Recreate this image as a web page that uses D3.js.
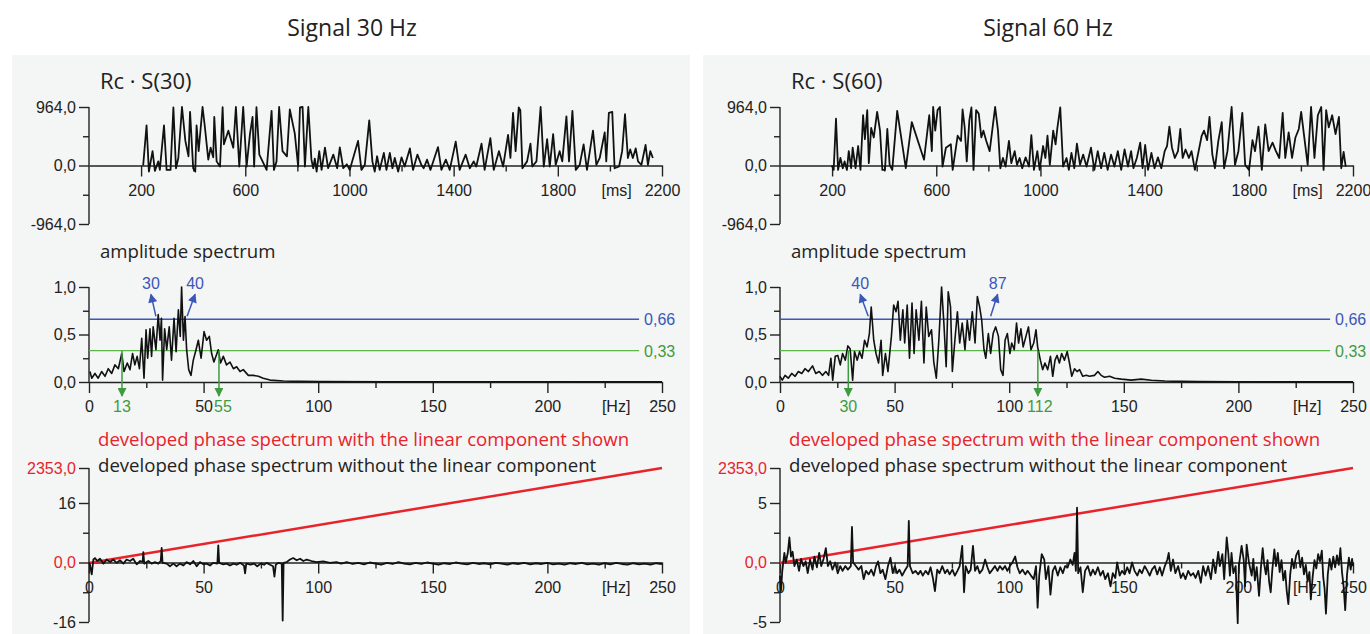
<!DOCTYPE html>
<html>
<head>
<meta charset="utf-8">
<script src="https://cdn.jsdelivr.net/npm/d3@7/dist/d3.min.js"></script>
<style>
  body { margin: 0; background: #fff; }
  svg { display: block; }
  .caption { font-family: "Open Sans", sans-serif; fill: #222; }
</style>
</head>
<body>
<div id="chart"></div>
<script>
// ---- data ----
// time signals [ms, value]
const sig30 = [[208,0],[221,660],[230,-100],[244,236],[253,-90],[266,68],[272,-73],[288,660],[298,-73],[313,-73],[324,957],[334,-45],[343,124],[357,964],[370,405],[382,152],[388,884],[400,-45],[408,-101],[413,660],[421,236],[436,964],[445,630],[458,96],[467,293],[477,135],[481,800],[490,68],[503,-17],[513,960],[518,350],[535,574],[554,293],[564,964],[577,-17],[592,964],[605,-17],[618,518],[628,800],[634,-17],[643,960],[654,180],[682,-73],[701,900],[710,-73],[720,68],[730,964],[743,236],[760,150],[771,923],[790,529],[803,-17],[810,957],[820,964],[829,-17],[842,964],[854,96],[861,-45],[867,113],[874,-101],[884,236],[893,-73],[906,293],[918,-45],[938,180],[953,-45],[963,300],[976,-45],[990,20],[1001,-73],[1033,405],[1046,-73],[1059,11],[1076,743],[1088,68],[1097,-101],[1106,152],[1116,-73],[1132,208],[1142,-73],[1155,208],[1165,-45],[1174,124],[1187,-101],[1200,135],[1212,-17],[1232,281],[1244,-73],[1261,180],[1276,11],[1285,-45],[1298,96],[1311,-73],[1340,304],[1353,-73],[1370,96],[1385,-73],[1408,394],[1423,-73],[1446,180],[1462,-45],[1477,68],[1487,-17],[1507,360],[1519,-73],[1541,450],[1554,-73],[1574,236],[1590,-17],[1609,506],[1618,124],[1628,867],[1638,236],[1650,957],[1656,912],[1664,-45],[1682,68],[1695,360],[1702,-17],[1718,68],[1734,964],[1746,-17],[1759,433],[1769,-17],[1782,518],[1792,11],[1807,236],[1817,68],[1833,810],[1843,68],[1856,900],[1869,-73],[1884,11],[1899,349],[1912,-73],[1935,574],[1948,11],[1961,124],[1980,546],[1986,68],[1996,867],[2009,884],[2018,-45],[2035,-17],[2047,236],[2058,845],[2069,124],[2078,264],[2088,124],[2099,281],[2108,68],[2121,11],[2137,338],[2146,11],[2155,236],[2165,124]];

const sig60 = [[199,0],[206,-73],[215,771],[223,-73],[232,124],[241,-45],[248,68],[257,-73],[264,236],[273,-45],[279,293],[290,-45],[300,321],[309,-73],[319,828],[326,433],[335,912],[341,39],[350,619],[360,462],[373,884],[384,574],[393,-73],[403,-73],[412,602],[421,11],[431,-73],[450,900],[483,-45],[506,715],[553,96],[573,828],[583,236],[588,964],[596,574],[605,912],[614,964],[624,-17],[637,293],[656,349],[663,-73],[682,490],[695,405],[701,923],[709,630],[717,68],[727,743],[735,957],[743,-73],[753,912],[763,855],[773,462],[781,574],[792,405],[805,236],[826,964],[837,574],[846,-45],[856,124],[866,-17],[879,405],[888,39],[901,236],[910,11],[920,124],[930,-45],[943,135],[956,-17],[965,500],[975,-73],[988,236],[997,-73],[1010,321],[1019,124],[1027,490],[1036,11],[1049,574],[1058,349],[1065,619],[1076,957],[1087,-17],[1100,124],[1109,-73],[1119,208],[1130,-45],[1140,360],[1152,11],[1164,180],[1177,-17],[1194,293],[1207,-73],[1220,236],[1233,-45],[1245,208],[1258,-73],[1271,180],[1284,-17],[1297,236],[1310,-73],[1323,264],[1336,-17],[1348,236],[1357,-45],[1370,124],[1383,377],[1392,-45],[1402,338],[1413,-73],[1426,208],[1438,-45],[1451,135],[1464,-45],[1477,236],[1486,321],[1495,642],[1505,293],[1516,124],[1528,236],[1537,602],[1546,124],[1557,264],[1570,124],[1580,236],[1593,-73],[1606,208],[1619,490],[1628,574],[1640,417],[1649,800],[1660,180],[1670,-45],[1683,405],[1696,715],[1705,-45],[1718,236],[1734,964],[1747,11],[1760,236],[1775,867],[1786,11],[1801,-73],[1814,417],[1824,236],[1837,642],[1850,-73],[1863,676],[1876,236],[1891,377],[1904,236],[1917,124],[1930,867],[1940,124],[1953,546],[1966,124],[1979,462],[1992,602],[2001,884],[2013,462],[2026,11],[2039,964],[2052,124],[2065,828],[2078,964],[2087,-73],[2097,912],[2107,630],[2120,828],[2133,518],[2146,800],[2155,-45],[2164,225],[2172,-17]];

// amplitude spectra [Hz, normalised amplitude]
const amp30 = [[0.4,0.11],[1.2,0.04],[2.6,0.09],[4,0.04],[5.5,0.11],[7,0.06],[8.4,0.14],[9.9,0.09],[11.3,0.18],[12.8,0.14],[14.3,0.30],[15.3,0.11],[16.7,0.20],[17.9,0.13],[19,0.30],[20,0.18],[21,0.27],[22,0.14],[23,0.46],[24,0.04],[24.9,0.55],[25.6,0.25],[26.6,0.56],[27.3,0.27],[28,0.58],[29.2,0.34],[30.2,0.71],[31,0.44],[31.6,0.67],[32.1,0.02],[33,0.56],[33.9,0.34],[35,0.58],[36,0.23],[37.1,0.67],[38,0.32],[39,0.76],[39.8,0.48],[40.4,1.0],[41.2,0.44],[41.9,0.69],[42.6,0.34],[43.5,0.13],[44.5,0.07],[45.5,0.23],[46.7,0.34],[47.7,0.44],[48.9,0.25],[50.2,0.53],[51.3,0.44],[52.5,0.48],[53.5,0.30],[54.5,0.21],[56.4,0.34],[57.4,0.20],[58.6,0.27],[60,0.18],[61.5,0.21],[63,0.14],[64.4,0.16],[65.9,0.11],[67.3,0.13],[69.5,0.07],[71.7,0.07],[73.9,0.06],[76,0.04],[79,0.02],[84.8,0.01],[92,0.007],[100.8,0.004],[130,0.002],[180,0.002],[250,0.001]];

const amp60 = [[0,0.06],[1,0.02],[2.2,0.07],[3.6,0.04],[5.1,0.09],[6.6,0.06],[8,0.11],[9.5,0.09],[10.9,0.14],[12.4,0.11],[14.2,0.17],[15.6,0.09],[17.1,0.11],[18.5,0.07],[20,0.11],[21.2,0.07],[22.2,0.25],[23,0.02],[24.1,0.27],[25.2,0.28],[26.3,0.18],[27.3,0.30],[28.5,0.23],[29.6,0.38],[30.6,0.35],[31.7,0.02],[32.5,0.32],[33.7,0.23],[34.7,0.32],[35.8,0.25],[36.9,0.44],[38,0.37],[39,0.51],[39.8,0.79],[40.9,0.44],[41.9,0.30],[43,0.20],[44.1,0.44],[44.8,0.07],[46,0.30],[47.1,0.11],[48.6,0.48],[49.6,0.81],[50.6,0.74],[51.5,0.85],[52.5,0.44],[53.6,0.76],[54.4,0.41],[55.5,0.81],[56.5,0.25],[57.6,0.83],[58.5,0.30],[59.4,0.76],[60.6,0.44],[61.7,0.85],[62.8,0.20],[63.8,0.79],[64.9,0.48],[66.1,0.55],[67.1,0.21],[68.2,0.04],[69.3,0.44],[70.5,1.0],[71.5,0.62],[72.5,0.16],[73.4,0.95],[74.4,0.79],[75.2,0.11],[76.3,0.44],[77.4,0.74],[78.4,0.41],[79.5,0.62],[80.7,0.34],[81.7,0.65],[82.7,0.44],[83.9,0.74],[85.1,0.41],[86.1,0.90],[87.1,0.79],[88,0.65],[89,0.34],[89.8,0.25],[90.9,0.51],[91.9,0.30],[93,0.51],[94.1,0.58],[95.3,0.48],[96.3,0.13],[97.3,0.07],[98.2,0.44],[99.2,0.51],[100.3,0.30],[101.1,0.41],[102.2,0.34],[103.2,0.62],[104.1,0.41],[105.1,0.56],[106.1,0.37],[107.3,0.48],[108.4,0.58],[109.5,0.34],[110.7,0.41],[111.7,0.55],[112.4,0.37],[113.6,0.23],[114.6,0.13],[115.6,0.20],[116.8,0.13],[118,0.27],[119,0.06],[120,0.23],[120.9,0.28],[121.9,0.20],[122.9,0.30],[124.1,0.23],[125.3,0.32],[126.3,0.20],[127.3,0.06],[128.5,0.14],[129.6,0.11],[130.7,0.13],[132.1,0.06],[133.6,0.07],[135,0.06],[137.2,0.07],[138.7,0.11],[140.1,0.07],[141.6,0.05],[143.8,0.06],[146,0.04],[148.9,0.03],[153.3,0.02],[157.6,0.03],[162,0.018],[167.9,0.01],[175.2,0.007],[182.5,0.004],[200,0.002],[250,0.001]];

// developed phase spectra without the linear component [Hz, value]
const phase30 = [[0,0],[0.4,-0.5],[1.2,-3.2],[1.9,0.8],[2.6,1.2],[3.6,0.4],[4.8,1.0],[6.3,-0.3],[7.7,0.8],[9.2,0.1],[10.6,0.8],[12.1,-0.1],[13.5,0.6],[15,-0.3],[16.4,0.8],[17.9,0.4],[19.3,1.0],[20.8,-0.5],[22.3,0.4],[23.4,0.2],[23.7,2.8],[24.1,-0.3],[25.9,0.4],[27.3,-0.3],[28.8,0.1],[30.2,-0.3],[31.3,0.4],[31.7,3.9],[32.1,-0.1],[33.9,-0.3],[35.3,-1.0],[36.8,-0.3],[38.2,-1.0],[39.7,-0.3],[41.2,-0.8],[42.6,0.1],[44.1,-0.5],[45.5,0.4],[47,-1.0],[48.4,0.1],[49.9,-0.5],[51.3,-0.3],[52.8,-0.8],[54.2,-0.1],[56,-0.3],[56.4,4.6],[56.8,-0.1],[58.6,-0.5],[60.1,-0.3],[61.5,-0.8],[63,-0.3],[64.4,-0.6],[65.9,-0.1],[67.6,-0.8],[68.1,-2.9],[68.6,-0.3],[70.5,-0.6],[72,-0.3],[73.4,-1.0],[74.9,-0.3],[76.4,-0.6],[77.5,-0.1],[79,-0.6],[80.3,-1.0],[80.9,-3.8],[81.5,-0.6],[82.6,-0.1],[84.1,-0.3],[84.5,-15.6],[84.9,-0.1],[86.2,0.1],[87.7,0.8],[89.1,1.2],[90.6,0.6],[92.1,1.0],[93.5,0.4],[95,0.8],[97.1,0.4],[99.3,0.1],[102.2,0.3],[105.1,-0.1],[108,0.1],[110,-0.3],[112.5,0.1],[115,-0.4],[117.5,-0.1],[120,-0.5],[122.5,0],[125,-0.3],[127.5,-0.6],[130,-0.1],[132.5,-0.4],[135,0.1],[137.5,-0.3],[140,-0.5],[142.5,-0.1],[145,-0.4],[147.5,0],[150,-0.3],[152.5,-0.6],[155,-0.2],[157.5,-0.4],[160,0],[162.5,-0.3],[165,-0.5],[167.5,-0.1],[170,-0.4],[172.5,-0.2],[175,-0.5],[177.5,-0.1],[180,-0.3],[182.5,-0.6],[185,-0.2],[187.5,-0.4],[190,-0.1],[192.5,-0.5],[195,-0.2],[197.5,-0.4],[200,-0.1],[202.5,-0.5],[205,-0.3],[207.5,-0.6],[210,-0.2],[212.5,-0.4],[215,-0.1],[217.5,-0.5],[220,-0.3],[222.5,-0.6],[225,-0.2],[227.5,-0.5],[230,-0.1],[232.5,-0.4],[235,-0.6],[237.5,-0.2],[240,-0.5],[242.5,-0.3],[245,-0.6],[247.5,-0.2],[250,-0.4]];

const phase60 = [[0,-1.1],[0.4,-2.4],[1,-0.7],[1.9,0.8],[2.5,0],[3.4,0.8],[4.1,2.1],[4.8,0.5],[5.5,0.9],[6.3,-0.3],[7.3,0.25],[8.3,-0.7],[9.2,0.3],[10.2,-0.3],[11.2,0.1],[12.1,-0.9],[13.1,0.25],[14.2,-0.6],[15,0.5],[16.1,-0.4],[17.1,0.8],[18,-0.3],[19,0.3],[20,1.2],[20.9,-0.3],[21.9,0.1],[22.9,-0.6],[24.1,0],[25.2,-0.9],[26.3,-0.3],[27.3,-0.7],[28.5,-0.3],[29.6,-0.6],[30.9,-0.3],[31.4,3.0],[31.9,0],[33.1,-0.3],[34.3,-0.6],[35.5,-0.3],[36.5,-1.4],[37.5,-0.7],[38.7,-1.0],[39.8,-0.6],[40.9,-1.1],[41.9,-0.3],[42.8,0.1],[43.8,-0.9],[44.8,-0.6],[46,-1.4],[47.1,-0.3],[48.2,0.4],[49.2,-0.9],[50.1,-0.3],[51.1,-0.9],[52.1,-0.6],[53.3,-1.1],[54.4,-0.7],[55.7,-0.3],[56.2,3.5],[56.7,-0.3],[57.9,-0.9],[59.1,-0.7],[60.3,-1.0],[61.3,-0.7],[62.3,-1.1],[63.5,-0.7],[64.7,-1.0],[65.7,-0.4],[66.7,-1.3],[67.6,-2.4],[68.6,-0.6],[69.6,-0.9],[70.8,-0.3],[72,-0.9],[73,-0.6],[74,-1.0],[75.2,-0.6],[76.3,-1.1],[77.4,-0.7],[78.4,-0.3],[79.5,1.4],[80.3,-2.5],[81,-0.3],[82.2,-0.9],[83.2,-0.6],[84.2,1.4],[85.1,-0.7],[86.1,-0.3],[87.1,-0.9],[88.3,-0.6],[89.5,0.25],[90.5,-0.4],[91.5,-0.9],[92.7,-0.6],[93.8,-0.3],[94.9,-0.7],[95.9,-0.3],[97.1,-0.6],[98.2,-0.3],[99.2,-0.7],[100.3,-0.3],[101.4,0],[102.6,0.5],[103.6,-0.4],[104.6,-0.9],[105.8,-0.6],[107,-1.0],[108,-0.7],[109.5,-1.1],[110.7,-1.4],[111.7,-0.3],[112.4,-3.8],[113.1,-1.1],[114.2,0.7],[115.3,0.25],[116,-1.4],[117.1,-0.3],[118,-2.7],[119,-0.7],[120,-0.3],[121.2,-1.1],[122.3,-0.4],[123.4,-0.9],[124.4,-0.3],[125.5,-0.4],[126.7,0.25],[127.7,-0.2],[128.5,0.8],[129.1,-0.7],[129.6,4.6],[130.1,-0.9],[131.1,-0.4],[132.1,-2.5],[133.1,-0.7],[134.3,-0.3],[135.5,-1.1],[136.5,-0.6],[137.5,-1.0],[138.7,-0.4],[139.8,-1.1],[140.9,-0.7],[141.9,-1.4],[143.1,-0.9],[144.2,-2.0],[145.2,-0.9],[146.3,-1.3],[147.1,0],[148.2,-1.1],[149.2,-0.7],[150.4,-1.0],[151.5,-0.4],[152.5,-0.9],[153.6,0],[154.7,-0.7],[155.9,-1.1],[156.9,-0.6],[157.9,-0.9],[159.1,-0.3],[160.3,-0.7],[161.3,-1.1],[162.3,-0.6],[163.5,-0.3],[164.6,-1.0],[165.7,-0.4],[166.7,-1.1],[167.9,-0.3],[169,0.25],[169.6,0.8],[170.5,-0.7],[171.5,0.25],[172.5,-0.9],[173.7,-0.3],[174.9,-1.3],[175.9,-0.9],[176.9,-1.4],[178.1,-0.7],[179.2,-1.1],[180.3,-0.9],[181.3,-1.3],[182.5,-0.7],[183.6,-1.7],[184.6,-0.3],[185.7,-1.1],[186.8,-0.3],[188,-1.4],[189,0.25],[190,-0.9],[191.2,0.9],[191.9,-0.3],[193,0.7],[193.8,-1.4],[194.9,2.1],[195.6,0.8],[196.3,-1.1],[197,0.8],[197.8,-0.9],[198.8,-0.3],[199.7,-5.1],[200.2,-0.3],[201.4,1.4],[202.3,0.25],[202.9,-2.0],[203.6,1.5],[204.6,0],[205.8,-1.1],[206.5,0.3],[207.2,-1.5],[208,-0.4],[209,-2.8],[209.8,-0.5],[210.6,1.2],[211.3,-0.2],[212,-1.0],[212.7,0.2],[213.4,-1.6],[214.1,-2.5],[214.8,-0.6],[215.7,1.1],[216.4,-0.3],[217.2,0.8],[218,-0.8],[218.8,0.2],[219.6,-1.5],[220.4,-0.7],[221.1,-2.4],[221.8,-3.5],[222.6,-1.0],[223.4,0.3],[224.2,-0.5],[225.2,0.6],[226.2,1.0],[227,-0.4],[227.8,0.4],[228.6,-1.0],[229.4,-0.2],[230.2,-1.6],[231,-0.8],[231.6,-3.1],[232.4,-1.2],[233.2,0.2],[234,-0.5],[234.8,0.7],[235.6,0.1],[236.4,1.0],[237,-1.2],[237.6,-2.2],[238.2,-4.3],[239,-1.0],[239.8,0.3],[240.6,-0.6],[241.4,0.5],[242.2,-0.4],[243,0.6],[243.8,-0.2],[244.5,1.2],[245.2,-0.8],[245.9,-2.0],[246.6,-4.0],[247.4,-1.0],[248.2,0.4],[249,-0.6],[249.6,0.3],[250,-0.3]];

// linear component of the developed phase [Hz, value]
const linear = [[0,0],[250,2353]];

// threshold levels and annotations
const blueLevel = 0.66, greenLevel = 0.33;
const blue30 = [{ label: "30", f: 29.2, lean: -5 }, { label: "40", f: 42.8, lean: 8 }];
const green30 = [{ label: "13", f: 14.4, shift: 0 }, { label: "55", f: 56.7, shift: 4 }];
const blue60 = [{ label: "40", f: 38.5, lean: -8 }, { label: "87", f: 91.9, lean: 7 }];
const green60 = [{ label: "30", f: 29.8, shift: 0 }, { label: "112", f: 112.5, shift: 2 }];

// tick values
const msMajor = [200, 600, 1000, 1400, 1800, 2200], msMinor = [400, 800, 1200, 1600, 2000];
const hzMajor = [0, 50, 100, 150, 200, 250], hzMinor = [25, 75, 125, 175, 225];

const BLUE = "#3b57b8", GREEN_LINE = "#5cb84c", GREEN = "#3f9b3f", RED = "#e8232b", INK = "#222";
const tickFont = '"Liberation Sans", Arial, sans-serif';
const comma1 = v => v.toFixed(1).replace(".", ",");
const comma2 = v => v.toFixed(2).replace(".", ",");

const svg = d3.select("#chart")
    .append("svg")
    .attr("width", 1370)
    .attr("height", 634);

const defs = svg.append("defs");
[["arrBlue", BLUE], ["arrGreen", GREEN]].forEach(([id, c]) => {
    defs.append("marker")
        .attr("id", id)
        .attr("viewBox", "0 0 10 10")
        .attr("refX", 9).attr("refY", 5)
        .attr("markerWidth", 10).attr("markerHeight", 9)
        .attr("markerUnits", "userSpaceOnUse")
        .attr("orient", "auto")
        .append("path")
        .attr("d", "M0,0 L10,5 L0,10 z")
        .attr("fill", c);
});

function styleAxis(sel) {
    sel.attr("font-family", tickFont).attr("font-size", 16);
    sel.selectAll("line").attr("stroke", INK).attr("stroke-width", 1.4);
    sel.selectAll("path").attr("stroke", INK).attr("stroke-width", 1.4);
    sel.selectAll("text").attr("fill", INK);
}

// x axis: long labelled ticks + short unlabelled ones
function xAxis(g, x, y0, major, minor) {
    g.append("g")
        .attr("transform", `translate(0,${y0})`)
        .call(d3.axisBottom(x).tickValues(minor).tickSize(6).tickSizeOuter(0).tickFormat(""))
        .call(s => s.select(".domain").remove())
        .call(styleAxis);
    g.append("g")
        .attr("transform", `translate(0,${y0})`)
        .call(d3.axisBottom(x).tickValues(major).tickSize(11).tickSizeOuter(0).tickPadding(8).tickFormat(d => d))
        .call(styleAxis);
}

function yAxis(g, y, major, minor, fmt) {
    g.append("g")
        .attr("transform", "translate(89,0)")
        .call(d3.axisLeft(y).tickValues(minor).tickSize(6).tickFormat(""))
        .call(s => s.select(".domain").remove())
        .call(styleAxis);
    return g.append("g")
        .attr("transform", "translate(89,0)")
        .call(d3.axisLeft(y).tickValues(major).tickSize(10).tickPadding(3).tickFormat(fmt))
        .call(s => s.select(".domain").remove())
        .call(styleAxis);
}

function vLine(g, y1, y2) {
    g.append("line")
        .attr("x1", 89).attr("x2", 89)
        .attr("y1", y1).attr("y2", y2)
        .attr("stroke", INK).attr("stroke-width", 1.4);
}

function unitLabel(g, x, y, txt) {
    g.append("text")
        .attr("x", x).attr("y", y)
        .attr("text-anchor", "middle")
        .attr("font-family", tickFont).attr("font-size", 16)
        .attr("fill", INK)
        .text(txt);
}

function trace(g, data, x, y, color, width) {
    g.append("path")
        .datum(data)
        .attr("fill", "none")
        .attr("stroke", color)
        .attr("stroke-width", width)
        .attr("stroke-linejoin", "round")
        .attr("d", d3.line().x(d => x(d[0])).y(d => y(d[1])));
}

function drawPanel(p) {
    const g = svg.append("g").attr("transform", `translate(${p.dx},0)`);

    // panel background and title
    g.append("rect")
        .attr("x", 12).attr("y", 55)
        .attr("width", 678).attr("height", 579)
        .attr("fill", "#f4f5f5");
    g.append("text")
        .attr("class", "caption")
        .attr("x", p.titleX).attr("y", 36)
        .attr("text-anchor", "middle")
        .attr("font-size", 23)
        .text(p.title);

    // ---- time signal ----
    const xT = d3.scaleLinear().domain([0, 2200]).range([89, 662]);
    const yS = d3.scaleLinear().domain([-964, 964]).range([224, 107]);
    g.append("text").attr("class", "caption")
        .attr("x", 100).attr("y", 89)
        .attr("font-size", 22)
        .text(p.rc);
    yAxis(g, yS, [-964, 0, 964], [-482, 482], comma1);
    vLine(g, yS(964), yS(-964));
    xAxis(g, xT, yS(0), msMajor, msMinor);
    unitLabel(g, xT(2026), yS(0) + 30, "[ms]");
    trace(g, p.signal, xT, yS, "#111", 1.8);

    // ---- amplitude spectrum ----
    const xF = d3.scaleLinear().domain([0, 250]).range([89, 662]);
    const yA = d3.scaleLinear().domain([0, 1]).range([382, 287]);
    g.append("text").attr("class", "caption")
        .attr("x", 100).attr("y", 258)
        .attr("font-size", 18.6)
        .text("amplitude spectrum");
    yAxis(g, yA, [0, 0.5, 1], [0.25, 0.75], comma1);
    vLine(g, yA(1), yA(0));
    xAxis(g, xF, yA(0), hzMajor, hzMinor);
    unitLabel(g, xF(230), yA(0) + 30, "[Hz]");

    [[blueLevel, BLUE, BLUE], [greenLevel, GREEN_LINE, GREEN]].forEach(([lv, lc, tc]) => {
        g.append("line")
            .attr("x1", xF(0)).attr("x2", xF(240))
            .attr("y1", yA(lv)).attr("y2", yA(lv))
            .attr("stroke", lc).attr("stroke-width", 1.4);
        g.append("text")
            .attr("x", xF(240) + 5).attr("y", yA(lv) + 6)
            .attr("font-family", tickFont).attr("font-size", 16)
            .attr("fill", tc)
            .text(comma2(lv));
    });

    trace(g, p.amp, xF, yA, "#111", 1.6);

    // blue arrows up to the marked peaks
    p.blue.forEach(m => {
        const x0 = xF(m.f), y0 = yA(blueLevel) - 3;
        g.append("line")
            .attr("x1", x0).attr("y1", y0)
            .attr("x2", x0 + m.lean).attr("y2", y0 - 22)
            .attr("stroke", BLUE).attr("stroke-width", 1.5)
            .attr("marker-end", "url(#arrBlue)");
        g.append("text")
            .attr("x", x0 + m.lean).attr("y", y0 - 27)
            .attr("text-anchor", "middle")
            .attr("font-family", tickFont).attr("font-size", 16)
            .attr("fill", BLUE)
            .text(m.label);
    });
    // green arrows down to the band edges
    p.green.forEach(m => {
        const x0 = xF(m.f);
        g.append("line")
            .attr("x1", x0).attr("y1", yA(greenLevel))
            .attr("x2", x0).attr("y2", yA(0) + 14)
            .attr("stroke", GREEN).attr("stroke-width", 1.5)
            .attr("marker-end", "url(#arrGreen)");
        g.append("text")
            .attr("x", x0 + m.shift).attr("y", yA(0) + 30)
            .attr("text-anchor", "middle")
            .attr("font-family", tickFont).attr("font-size", 16)
            .attr("fill", GREEN)
            .text(m.label);
    });

    // ---- developed phase spectrum ----
    const yP = d3.scaleLinear().domain([-p.phaseMax, p.phaseMax]).range([622, 503]);
    const yL = d3.scaleLinear().domain([0, 2353]).range([563, 468]);
    g.append("text").attr("class", "caption")
        .attr("x", 98).attr("y", 446)
        .attr("font-size", 18.6)
        .style("fill", RED)
        .text("developed phase spectrum with the linear component shown");
    g.append("text").attr("class", "caption")
        .attr("x", 98).attr("y", 472)
        .attr("font-size", 18.6)
        .text("developed phase spectrum without the linear component");

    const h = p.phaseMax / 2;
    const ya = yAxis(g, yP, [-p.phaseMax, 0, p.phaseMax], [-h, h], d => d === 0 ? "0,0" : d);
    ya.selectAll(".tick text").filter(d => d === 0).attr("fill", RED);
    const yr = yAxis(g, yL, [2353], [], comma1);
    yr.selectAll(".tick text").attr("fill", RED);
    vLine(g, yL(2353), yP(-p.phaseMax));
    xAxis(g, xF, yP(0), hzMajor, hzMinor);
    unitLabel(g, xF(230), yP(0) + 30, "[Hz]");

    trace(g, linear, xF, yL, RED, 2.5);
    trace(g, p.phase, xF, yP, "#111", 1.8);
}

drawPanel({ dx: 0, title: "Signal 30 Hz", titleX: 352, rc: "Rc \u00b7 S(30)",
    signal: sig30, amp: amp30, phase: phase30, phaseMax: 16, blue: blue30, green: green30 });
drawPanel({ dx: 691, title: "Signal 60 Hz", titleX: 357, rc: "Rc \u00b7 S(60)",
    signal: sig60, amp: amp60, phase: phase60, phaseMax: 5, blue: blue60, green: green60 });
</script>
</body>
</html>
